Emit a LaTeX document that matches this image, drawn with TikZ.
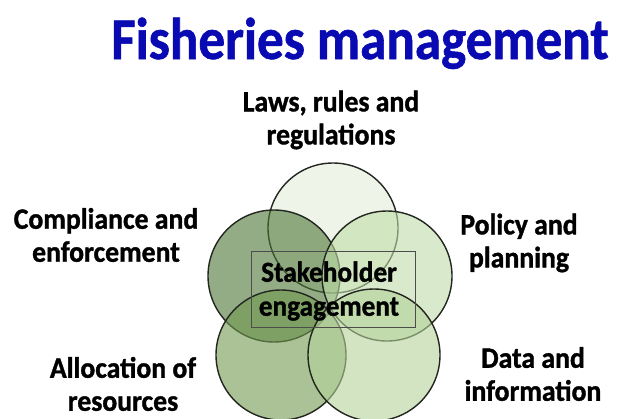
\documentclass[tikz,border=0pt]{standalone}
\usepackage{fontspec}
\setmainfont{Carlito}
\newfontfamily\headfont[FakeStretch=0.9,FakeBold=1]{Carlito Bold}
\newfontfamily\areafont[FakeStretch=0.94,FakeBold=1.2]{Carlito Bold}
\usepackage{tikz}
\definecolor{headblue}{RGB}{10,10,178}
\definecolor{ringline}{RGB}{35,38,32}
\definecolor{ringtop}{RGB}{227,238,217}
\definecolor{ringleft}{RGB}{75,117,53}
\definecolor{ringright}{RGB}{190,220,168}
\definecolor{ringlowleft}{RGB}{113,153,80}
\definecolor{ringlowright}{RGB}{180,210,153}
\tikzset{
  ring/.style={draw=ringline, line width=1.4pt, fill opacity=0.6},
  areatext/.style={font=\areafont\fontsize{29.5}{33}\selectfont, align=center, text=black, inner sep=0pt},
}

\begin{document}
\begin{tikzpicture}[x=1pt, y=-1pt]
		%%%%% START %%%%%
		\useasboundingbox (0, 0) rectangle (617, 418);
		
		\node[font=\headfont\fontsize{59}{64}\selectfont, text=headblue, anchor=base] (head) at (360, 59) {Fisheries management};
		
		% the five rings
		\draw[ring, fill=ringtop] (333, 228) circle (65);
		\draw[ring, fill=ringleft] (274, 276) circle (66);
		\draw[ring, fill=ringright] (387, 276) circle (65);
		\draw[ring, fill=ringlowleft] (281, 355) circle (65);
		\draw[ring, fill=ringlowright] (374, 355) circle (66);
		
		% centre box
		\draw[draw=black!70, line width=0.9pt] (251, 251) rectangle (415, 327);
		\node[areatext, font=\areafont\fontsize{29}{34}\selectfont] (stake) at (329, 291) {Stakeholder\\engagement};
		
		\node[areatext] (laws) at (331, 120) {Laws, rules and\\regulations};
		\node[areatext] (comply) at (106, 235) {Compliance and\\enforcement};
		\node[areatext] (policy) at (519, 243) {Policy and\\planning};
		\node[areatext] (alloc) at (123, 384) {Allocation of\\resources};
		\node[areatext] (data) at (533, 374) {Data and\\information};
		%%%%% END %%%%%
\end{tikzpicture}
\end{document}
